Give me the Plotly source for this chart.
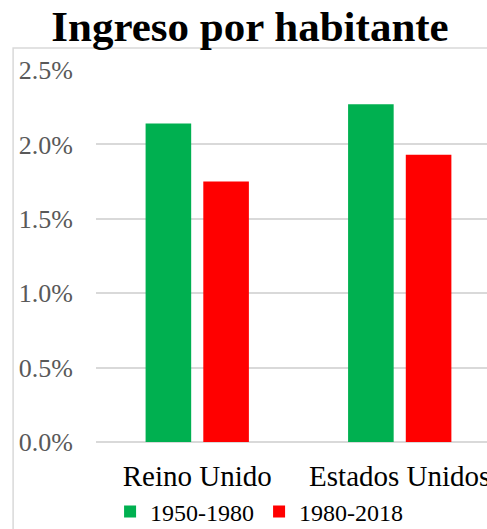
import plotly.graph_objects as go

# Average annual growth of income per inhabitant (%)
countries = ["Reino Unido", "Estados Unidos"]
period_labels = ["1950-1980", "1980-2018"]
growth_1950_1980 = [2.14, 2.27]
growth_1980_2018 = [1.75, 1.93]
y_ticks = [0.0, 0.5, 1.0, 1.5, 2.0, 2.5]

GREEN = "#00B050"
RED = "#FF0000"
GRID = "#D9D9D9"
FONT = "Liberation Serif"

fig = go.Figure()
fig.add_trace(go.Bar(x=countries, y=growth_1950_1980, name=period_labels[0],
                     marker=dict(color=GREEN, line=dict(width=0))))
fig.add_trace(go.Bar(x=countries, y=growth_1980_2018, name=period_labels[1],
                     marker=dict(color=RED, line=dict(width=0))))

# light frame of the chart area (left and top edges visible in the crop)
fig.add_shape(type="rect", xref="paper", yref="paper",
              x0=-0.212, x1=1.2, y0=-0.4, y1=1.059,
              line=dict(color=GRID, width=1.5), layer="below")

fig.update_layout(
    width=487, height=529,
    margin=dict(l=96, r=0, t=70, b=87, autoexpand=False),
    paper_bgcolor="white", plot_bgcolor="white",
    barmode="group", bargap=0.43, bargroupgap=0.21,
    font=dict(family=FONT, color="#000000"),
    title=dict(text="<b>Ingreso por habitante</b>", x=250 / 487, xanchor="center",
               y=1 - 26 / 529, yanchor="middle", yref="container",
               font=dict(family=FONT, size=43, color="#000000")),
    showlegend=True,
    legend=dict(orientation="h", x=0.036, xanchor="left", y=-0.188, yanchor="middle",
                font=dict(family=FONT, size=24, color="#000000"),
                bgcolor="rgba(0,0,0,0)", itemclick=False),
)
fig.update_xaxes(range=[-0.5, 1.431], showgrid=False, showline=False, zeroline=False,
                 ticks="outside", ticklen=0, tickcolor="rgba(0,0,0,0)",
                 ticklabelstandoff=8, automargin=False,
                 tickfont=dict(family=FONT, size=29, color="#000000"))
fig.update_yaxes(range=[0, 2.5], tickvals=y_ticks, ticktext=[f"{v:.1f}%" for v in y_ticks],
                 showgrid=True, gridcolor=GRID, gridwidth=1.5,
                 zeroline=True, zerolinecolor=GRID, zerolinewidth=1.5,
                 showline=False, ticks="", ticklabelstandoff=22, automargin=False,
                 tickfont=dict(family=FONT, size=26, color="#595959"))

# drop the default page margin so the 487x529 figure fills the window exactly
fig.write_html("out.html", config={"displayModeBar": False},
               post_script="document.body.style.margin = '0';")
